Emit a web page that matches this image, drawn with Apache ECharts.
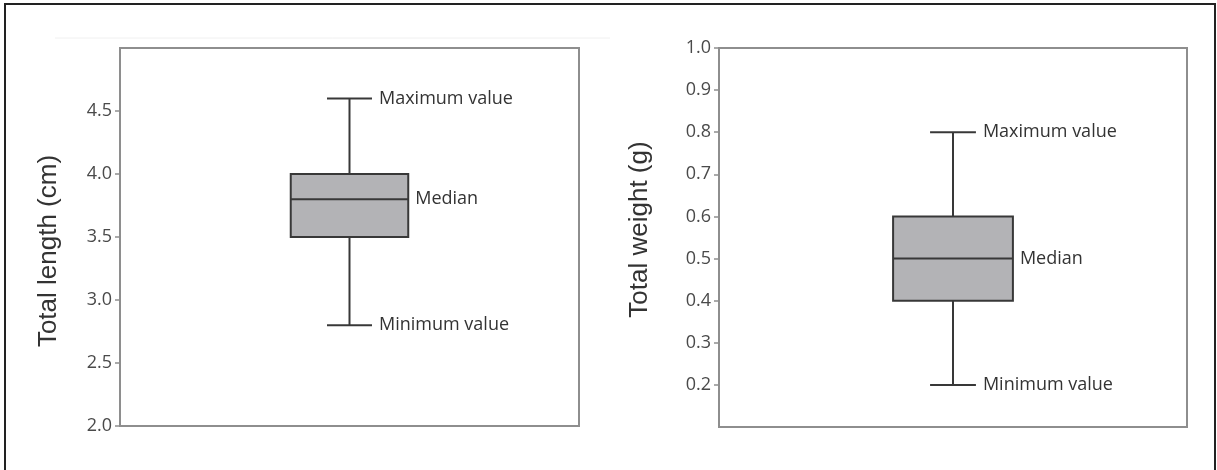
<!DOCTYPE html>
<html>
<head>
<meta charset="utf-8">
<script src="https://cdn.jsdelivr.net/npm/echarts@6/dist/echarts.min.js"></script>
<style>
html,body{margin:0;padding:0;background:#fff;}
#chart{width:1217px;height:470px;}
</style>
</head>
<body>
<div id="chart"></div>
<script>
// ---- data ----
const lengthStats = [2.8, 3.5, 3.8, 4.0, 4.6];   // min, Q1, median, Q3, max (cm)
const weightStats = [0.2, 0.4, 0.5, 0.6, 0.8];   // min, Q1, median, Q3, max (g)
const lengthTicks = [2.0, 2.5, 3.0, 3.5, 4.0, 4.5];
const weightTicks = [0.2, 0.3, 0.4, 0.5, 0.6, 0.7, 0.8, 0.9, 1.0];
const lengthRange = [2.0, 5.0];
const weightRange = [0.1, 1.0];
const axisTitles = ['Total length (cm)', 'Total weight (g)'];
const annotationLabels = ['Maximum value', 'Median', 'Minimum value'];

const chart = echarts.init(document.getElementById('chart'), null, {renderer: 'canvas'});

const AXIS_COLOR = '#8e8e8e';
const LINE_COLOR = '#383838';
const FILL = '#b3b3b6';
const LABEL_FONT = '"Open Sans", sans-serif';

function renderBox(params, api) {
  const min = api.value(1), q1 = api.value(2), med = api.value(3), q3 = api.value(4), max = api.value(5);
  const band = api.size([1, 0])[0];
  const pMin = api.coord([api.value(0), min]);
  const pQ1 = api.coord([api.value(0), q1]);
  const pMed = api.coord([api.value(0), med]);
  const pQ3 = api.coord([api.value(0), q3]);
  const pMax = api.coord([api.value(0), max]);
  const cx = pMed[0];
  const halfBox = band * 0.128;
  const halfCap = band * 0.049;
  const ls = {stroke: LINE_COLOR, lineWidth: 2};
  const txt = (x, y, t) => ({
    type: 'text', x: x, y: y,
    style: {text: t, fill: '#333', font: '18px ' + LABEL_FONT, textAlign: 'left', textVerticalAlign: 'middle'}
  });
  return {
    type: 'group',
    children: [
      {type: 'line', shape: {x1: cx, y1: pMax[1], x2: cx, y2: pQ3[1]}, style: ls},
      {type: 'line', shape: {x1: cx, y1: pQ1[1], x2: cx, y2: pMin[1]}, style: ls},
      {type: 'line', shape: {x1: cx - halfCap, y1: pMax[1], x2: cx + halfCap, y2: pMax[1]}, style: ls},
      {type: 'line', shape: {x1: cx - halfCap, y1: pMin[1], x2: cx + halfCap, y2: pMin[1]}, style: ls},
      {type: 'rect', shape: {x: cx - halfBox, y: pQ3[1], width: halfBox * 2, height: pQ1[1] - pQ3[1]},
        style: {fill: FILL, stroke: LINE_COLOR, lineWidth: 2}},
      {type: 'line', shape: {x1: cx - halfBox, y1: pMed[1], x2: cx + halfBox, y2: pMed[1]}, style: ls},
      txt(cx + halfCap + 7, pMax[1], annotationLabels[0]),
      txt(cx + halfBox + 7, pMed[1], annotationLabels[1]),
      txt(cx + halfCap + 7, pMin[1], annotationLabels[2])
    ]
  };
}

function yAxis(idx, range, ticks, nameGap, namePadding) {
  return {
    type: 'value', gridIndex: idx, min: range[0], max: range[1],
    name: axisTitles[idx], nameLocation: 'middle', nameGap: nameGap,
    nameTextStyle: {fontSize: 26, color: '#333', fontFamily: '"Liberation Sans", Arial, sans-serif', padding: namePadding},
    splitLine: {show: false},
    axisLine: {show: true, lineStyle: {color: AXIS_COLOR, width: 2}},
    axisTick: {show: true, length: 5, customValues: ticks, lineStyle: {color: AXIS_COLOR, width: 1.5}},
    axisLabel: {show: true, customValues: ticks, margin: 8, fontSize: 18, color: '#4a4a4a',
      fontFamily: LABEL_FONT, formatter: v => Number(v).toFixed(1)}
  };
}

function xAxis(idx) {
  return {
    type: 'category', gridIndex: idx, data: [axisTitles[idx]],
    axisLine: {show: true, lineStyle: {color: AXIS_COLOR, width: 2}},
    axisTick: {show: false}, axisLabel: {show: false}, splitLine: {show: false}
  };
}

chart.setOption({
  animation: false,
  backgroundColor: '#fff',
  grid: [
    {left: 120, right: 638, top: 48, bottom: 44, show: true, borderColor: AXIS_COLOR, borderWidth: 2, containLabel: false},
    {left: 719, right: 30, top: 48, bottom: 43, show: true, borderColor: AXIS_COLOR, borderWidth: 2, containLabel: false}
  ],
  xAxis: [xAxis(0), xAxis(1)],
  yAxis: [yAxis(0, lengthRange, lengthTicks, 58, [0, 28, 0, 0]), yAxis(1, weightRange, weightTicks, 66, [0, 0, 0, 16])],
  series: [
    {type: 'custom', xAxisIndex: 0, yAxisIndex: 0, renderItem: renderBox,
      encode: {x: 0, y: [1, 2, 3, 4, 5]},
      data: [[0].concat(lengthStats)]},
    {type: 'custom', xAxisIndex: 1, yAxisIndex: 1, renderItem: renderBox,
      encode: {x: 0, y: [1, 2, 3, 4, 5]},
      data: [[0].concat(weightStats)]}
  ],
  graphic: [
    {type: 'rect', z: 100, silent: true,
      shape: {x: 5, y: 4, width: 1210, height: 480},
      style: {fill: 'none', stroke: '#222', lineWidth: 2}},
    {type: 'line', silent: true,
      shape: {x1: 55, y1: 38, x2: 610, y2: 38},
      style: {stroke: '#f0f0f0', lineWidth: 1}}
  ]
});
</script>
</body>
</html>
